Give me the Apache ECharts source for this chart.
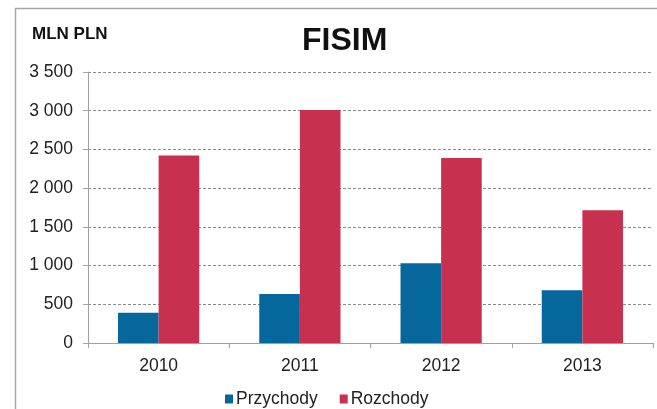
<!DOCTYPE html>
<html>
<head>
<meta charset="utf-8">
<script src="https://cdn.jsdelivr.net/npm/echarts@6/dist/echarts.min.js"></script>
<style>html,body{margin:0;padding:0;background:#fff}#c{width:657px;height:409px}</style>
</head>
<body>
<div id="c"></div>
<script>
const categories = ['2010', '2011', '2012', '2013'];
const przychody = [391, 633, 1029, 680];
const rozchody = [2422, 3009, 2389, 1714];
const yTicks = { min: 0, max: 3500, interval: 500 };
const seriesNames = ['Przychody', 'Rozchody'];

const chart = echarts.init(document.getElementById('c'));
const font = 'Liberation Sans, Arial, sans-serif';
chart.setOption({
  animation: false,
  backgroundColor: '#fff',
  graphic: [
    { type: 'line', shape: { x1: 15, y1: 8.5, x2: 657, y2: 8.5 }, style: { stroke: '#a6a6a6', lineWidth: 1.5 }, z: -1 },
    { type: 'line', shape: { x1: 15.5, y1: 8, x2: 15.5, y2: 409 }, style: { stroke: '#a6a6a6', lineWidth: 1.5 }, z: -1 },
    { type: 'text', left: 32, top: 26, style: { text: 'MLN PLN', font: 'bold 17px ' + font, fill: '#111' } }
  ],
  title: {
    text: 'FISIM', left: 297, top: 20,
    textStyle: { fontFamily: font, fontWeight: 'bold', fontSize: 32, color: '#111' }
  },
  legend: {
    data: seriesNames, top: 385, left: 220, itemWidth: 8, itemHeight: 9, itemGap: 22,
    icon: 'rect',
    textStyle: { fontFamily: font, fontSize: 17.5, color: '#222', padding: [0, 0, 0, -2] }
  },
  grid: { left: 88, right: 4, top: 72, bottom: 66, containLabel: false },
  xAxis: {
    type: 'category', data: categories,
    axisLine: { lineStyle: { color: '#a0a0a0', width: 1 } },
    axisTick: { show: true, length: 5, lineStyle: { color: '#a0a0a0' } },
    splitLine: { show: false },
    axisLabel: { fontFamily: font, fontSize: 17.5, color: '#222', margin: 14 }
  },
  yAxis: {
    type: 'value', min: yTicks.min, max: yTicks.max, interval: yTicks.interval,
    axisLine: { show: true, lineStyle: { color: '#a0a0a0', width: 1 } },
    axisTick: { show: true, length: 5, lineStyle: { color: '#a0a0a0' } },
    splitLine: { lineStyle: { color: '#8a8a8a', type: [3, 2], width: 1 } },
    axisLabel: {
      fontFamily: font, fontSize: 17.5, color: '#222', margin: 15,
      formatter: v => String(v).replace(/\B(?=(\d{3})+(?!\d))/g, ' ')
    }
  },
  series: [
    { name: seriesNames[0], type: 'bar', data: przychody, barGap: '0%', barCategoryGap: '42.5%', itemStyle: { color: '#06679D' } },
    { name: seriesNames[1], type: 'bar', data: rozchody, barGap: '0%', barCategoryGap: '42.5%', itemStyle: { color: '#C8304F' } }
  ]
});
</script>
</body>
</html>
